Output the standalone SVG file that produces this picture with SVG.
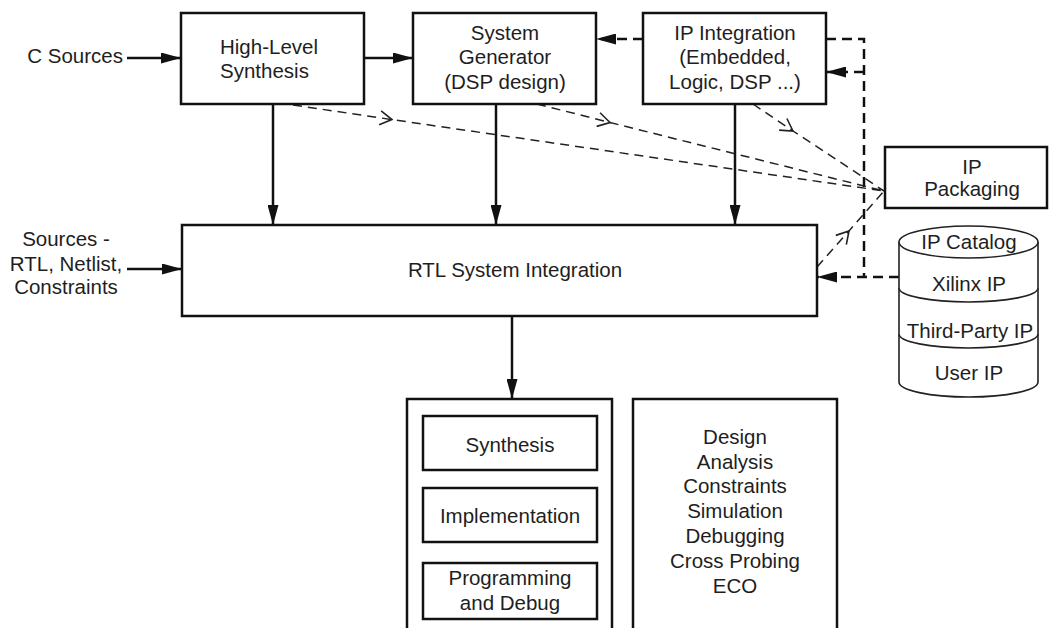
<svg xmlns="http://www.w3.org/2000/svg" width="1051" height="628" viewBox="0 0 1051 628">
<style>
  .box { fill: #ffffff; stroke: #111; stroke-width: 2.5; }
  .cyl { fill: #ffffff; stroke: #222; stroke-width: 1.6; }
  .t { font-family: "Liberation Sans", Arial, sans-serif; font-size: 20.5px; fill: #1e1e1e; }
  .c { text-anchor: middle; }
  .solid { fill: none; stroke: #111; stroke-width: 2.5; }
  .bdash { fill: none; stroke: #111; stroke-width: 2.5; stroke-dasharray: 10 6; }
  .tdash { fill: none; stroke: #222; stroke-width: 1.5; stroke-dasharray: 9 6; }
</style>
<defs>
  <marker id="arr" markerUnits="userSpaceOnUse" viewBox="0 0 20 11" refX="20" refY="5.5" markerWidth="20" markerHeight="11" orient="auto">
    <path d="M0,0 L20,5.5 L0,11 Z" fill="#111"/>
  </marker>
  <marker id="chev" markerUnits="userSpaceOnUse" viewBox="-1 -1 14 16" refX="12" refY="7" markerWidth="14" markerHeight="16" orient="auto">
    <path d="M0,0 L12,7 L0,14" fill="none" stroke="#222" stroke-width="1.6"/>
  </marker>
</defs>
<rect width="1051" height="628" fill="#ffffff"/>

<g id="connectors">
  <line class="solid" x1="127" y1="58" x2="181" y2="58" marker-end="url(#arr)"/>
  <line class="solid" x1="364" y1="58" x2="413" y2="58" marker-end="url(#arr)"/>
  <line class="solid" x1="127" y1="269" x2="182" y2="269" marker-end="url(#arr)"/>
  <line class="solid" x1="273" y1="104" x2="273" y2="225" marker-end="url(#arr)"/>
  <line class="solid" x1="496" y1="104" x2="496" y2="225" marker-end="url(#arr)"/>
  <line class="solid" x1="735" y1="104" x2="735" y2="225" marker-end="url(#arr)"/>
  <line class="solid" x1="512" y1="316" x2="512" y2="399" marker-end="url(#arr)"/>
  <line class="bdash" x1="643" y1="39" x2="596" y2="39" marker-end="url(#arr)"/>
  <polyline class="bdash" points="826,39 864,39 864,277"/>
  <line class="bdash" x1="864" y1="72" x2="826" y2="72" marker-end="url(#arr)"/>
  <line class="bdash" x1="899" y1="277" x2="817" y2="277" marker-end="url(#arr)"/>
  <polyline class="tdash" points="293,105 392,119.6 884,191" marker-mid="url(#chev)"/>
  <polyline class="tdash" points="537,104 610,122.5 884,191" marker-mid="url(#chev)"/>
  <polyline class="tdash" points="753,104 793,131 884,191" marker-mid="url(#chev)"/>
  <polyline class="tdash" points="817,267 849,231 884,191" marker-mid="url(#chev)"/>
</g>

<g id="c-sources">
  <text class="t" x="123" y="63" text-anchor="end">C Sources</text>
</g>
<g id="sources-rtl">
  <text class="t c" x="66" y="246">Sources -</text>
  <text class="t c" x="66" y="271">RTL, Netlist,</text>
  <text class="t c" x="66" y="294">Constraints</text>
</g>
<g id="hls">
  <rect class="box" x="181" y="13" width="183" height="91"/>
  <text class="t" x="220" y="54">High-Level</text>
  <text class="t" x="220" y="78">Synthesis</text>
</g>
<g id="sysgen">
  <rect class="box" x="413" y="13" width="183" height="91"/>
  <text class="t c" x="505" y="40">System</text>
  <text class="t c" x="505" y="64">Generator</text>
  <text class="t c" x="505" y="89">(DSP design)</text>
</g>
<g id="ip-integration">
  <rect class="box" x="643" y="13" width="183" height="91"/>
  <text class="t c" x="735" y="40">IP Integration</text>
  <text class="t c" x="735" y="64">(Embedded,</text>
  <text class="t c" x="735" y="89">Logic, DSP ...)</text>
</g>
<g id="ip-packaging">
  <rect class="box" x="885" y="147" width="162" height="61"/>
  <text class="t c" x="972" y="174">IP</text>
  <text class="t c" x="972" y="196">Packaging</text>
</g>
<g id="rtl">
  <rect class="box" x="182" y="225" width="635" height="91"/>
  <text class="t c" x="515" y="277">RTL System Integration</text>
</g>
<g id="ip-catalog">
  <path class="cyl" d="M899,242 L899,382 A69.5,15 0 0 0 1038,382 L1038,242"/>
  <ellipse class="cyl" cx="968.5" cy="242" rx="69.5" ry="16"/>
  <path class="cyl" fill="none" d="M899,288 A69.5,14 0 0 0 1038,288"/>
  <path class="cyl" fill="none" d="M899,334 A69.5,14 0 0 0 1038,334"/>
  <text class="t c" x="969" y="249">IP Catalog</text>
  <text class="t c" x="969" y="291">Xilinx IP</text>
  <text class="t c" x="970" y="338">Third-Party IP</text>
  <text class="t c" x="969" y="380">User IP</text>
</g>
<g id="flow">
  <rect class="box" x="407" y="399" width="205" height="245"/>
  <g id="synthesis">
    <rect class="box" x="423" y="416" width="174" height="54"/>
    <text class="t c" x="510" y="452">Synthesis</text>
  </g>
  <g id="implementation">
    <rect class="box" x="423" y="488" width="174" height="54"/>
    <text class="t c" x="510" y="523">Implementation</text>
  </g>
  <g id="programming">
    <rect class="box" x="423" y="563" width="174" height="56"/>
    <text class="t c" x="510" y="585">Programming</text>
    <text class="t c" x="510" y="610">and Debug</text>
  </g>
</g>
<g id="analysis">
  <rect class="box" x="633" y="399" width="204" height="245"/>
  <text class="t c" x="735" y="444">Design</text>
  <text class="t c" x="735" y="468.5">Analysis</text>
  <text class="t c" x="735" y="493">Constraints</text>
  <text class="t c" x="735" y="518">Simulation</text>
  <text class="t c" x="735" y="543">Debugging</text>
  <text class="t c" x="735" y="568">Cross Probing</text>
  <text class="t c" x="735" y="593">ECO</text>
</g>
</svg>
